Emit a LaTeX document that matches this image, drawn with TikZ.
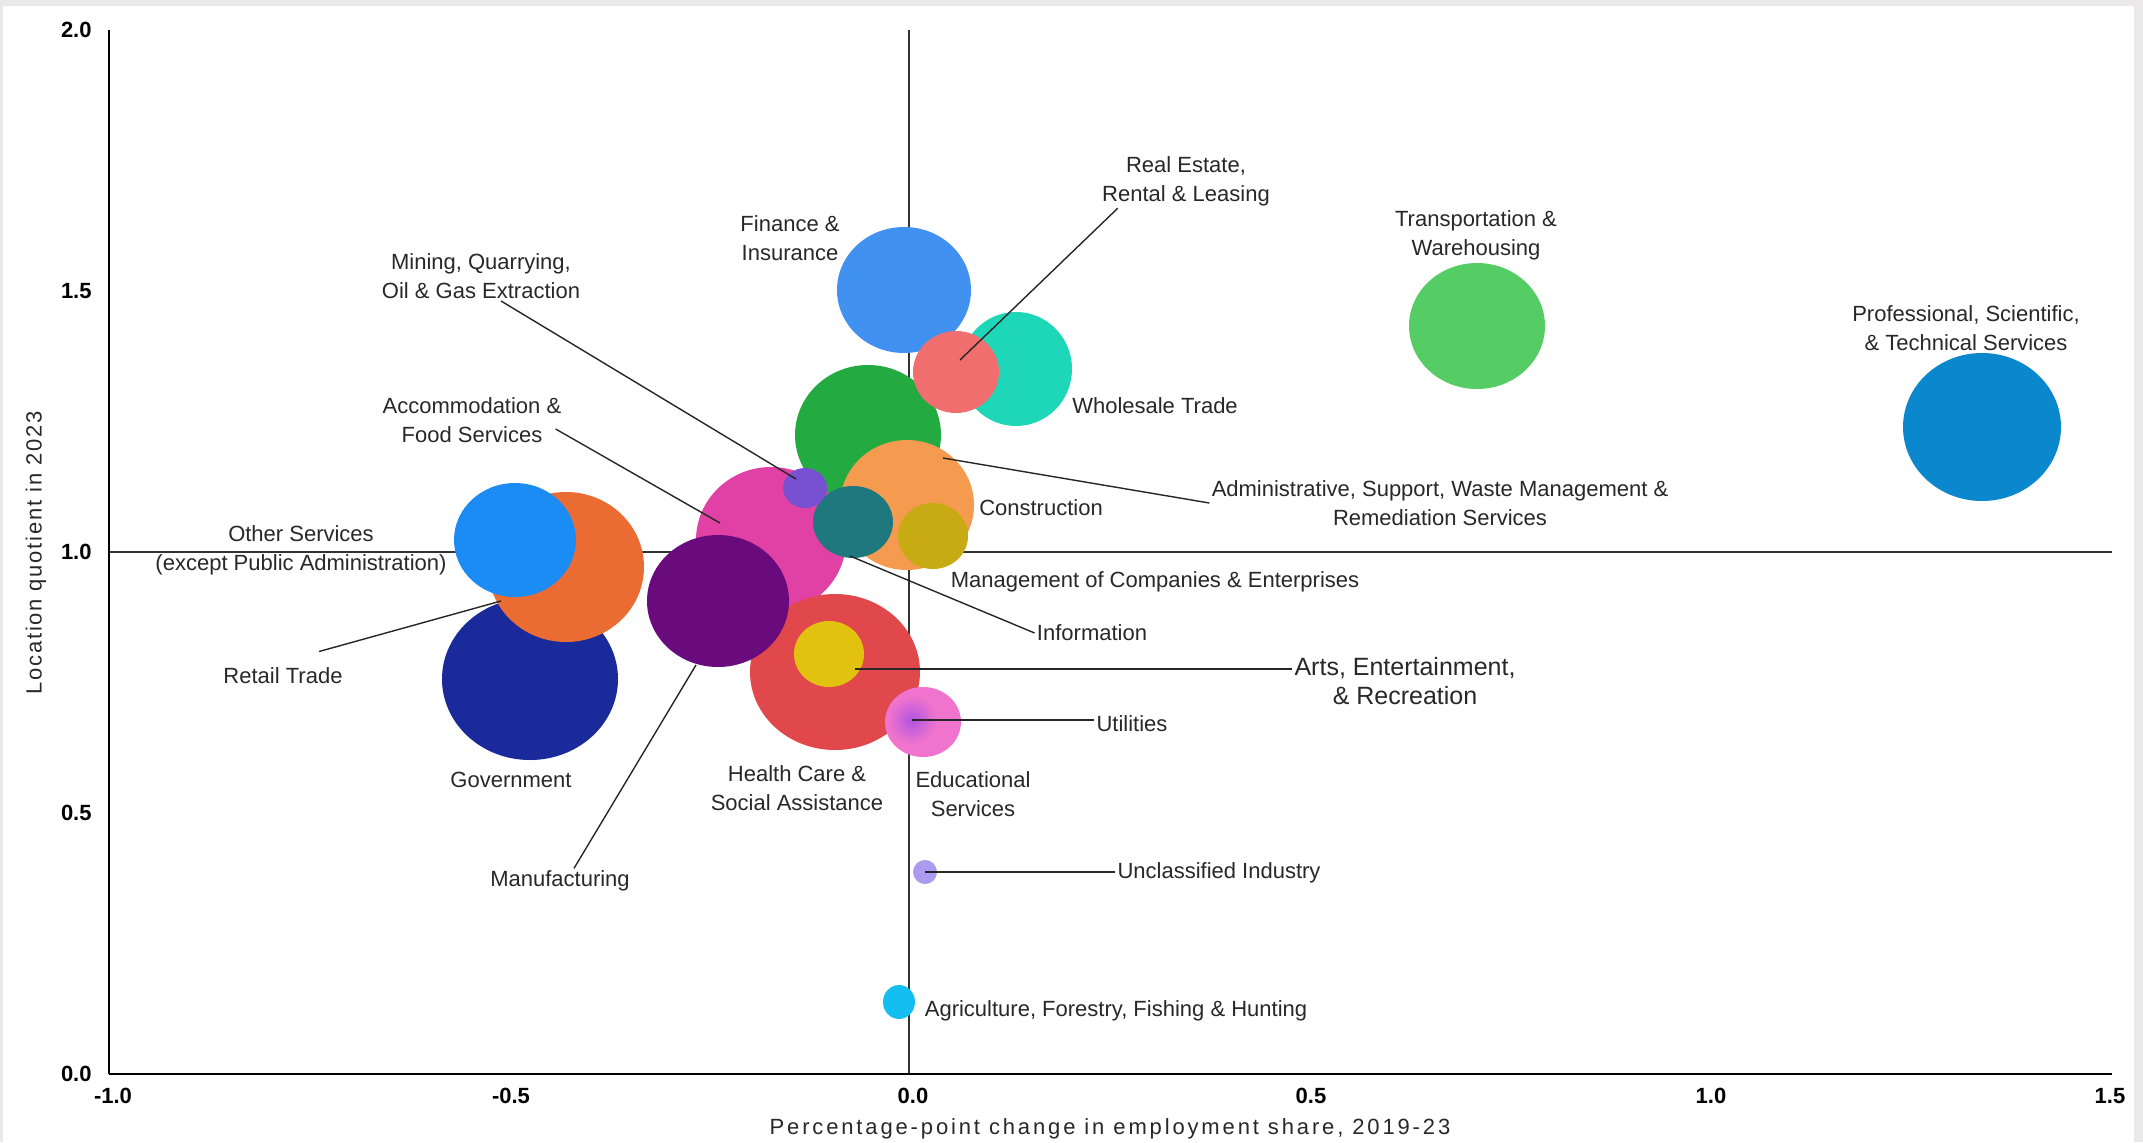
\documentclass[tikz,border=0pt]{standalone}
\usepackage{fontspec}
\setmainfont{Liberation Sans}
\newfontfamily\spacedfont[LetterSpace=13]{Liberation Sans}
\newfontfamily\yspacedfont[LetterSpace=8]{Liberation Sans}
\usetikzlibrary{shapes.geometric}

\definecolor{framegray}{RGB}{234,232,233}
\definecolor{labelgray}{RGB}{40,40,40}
\definecolor{govcol}{RGB}{27,42,155}
\definecolor{retcol}{RGB}{235,108,50}
\definecolor{othcol}{RGB}{28,140,245}
\definecolor{acccol}{RGB}{225,65,165}
\definecolor{heacol}{RGB}{225,72,75}
\definecolor{mancol}{RGB}{105,10,125}
\definecolor{artcol}{RGB}{225,195,15}
\definecolor{educol}{RGB}{240,115,205}
\definecolor{uticol}{RGB}{175,85,225}
\definecolor{concol}{RGB}{35,170,65}
\definecolor{admcol}{RGB}{245,155,80}
\definecolor{infcol}{RGB}{30,120,125}
\definecolor{mgtcol}{RGB}{200,170,20}
\definecolor{mincol}{RGB}{120,80,210}
\definecolor{fincol}{RGB}{65,145,240}
\definecolor{whocol}{RGB}{30,215,185}
\definecolor{reacol}{RGB}{240,110,110}
\definecolor{tracol}{RGB}{85,205,100}
\definecolor{procol}{RGB}{10,135,205}
\definecolor{unccol}{RGB}{170,155,240}
\definecolor{agrcol}{RGB}{20,190,240}

\begin{document}
\begin{tikzpicture}[x=0.5pt,y=-0.5pt,
  bubble/.style={ellipse,inner sep=0pt,draw=none},
  lbl/.style={align=center,inner sep=1pt,text=labelgray,font=\fontsize{11}{14.5}\selectfont},
  ticklbl/.style={inner sep=1pt,font=\bfseries\fontsize{11}{13}\selectfont},
  axistitle/.style={inner sep=1pt,text=labelgray,font=\spacedfont\fontsize{11}{13}\selectfont},
  leader/.style={line width=0.7pt,black!85},
  quadline/.style={line width=0.6pt,black!80}]
  \useasboundingbox (0,0) rectangle (2143,1142);
  \fill[framegray] (0,0) rectangle (2143,1142);
  \fill[white] (3,6) rectangle (2134,1142);

  % axes and quadrant lines
  \coordinate (o) at (109,1074);
  \coordinate (ytop) at (109,30);
  \coordinate (xend) at (2112,1074);
  \coordinate (vtop) at (909,30);
  \coordinate (vbot) at (909,1074);
  \coordinate (hleft) at (109,552);
  \coordinate (hright) at (2112,552);
  \draw[quadline] (vtop) -- (vbot);
  \draw[quadline] (hleft) -- (hright);
  \draw[line width=0.8pt] (ytop) -- (o);
  \draw[line width=1pt] (o) -- (xend);

  % tick labels
  \node[ticklbl,anchor=east] (y20) at (94,30) {2.0};
  \node[ticklbl,anchor=east] (y15) at (94,291) {1.5};
  \node[ticklbl,anchor=east] (y10) at (94,552) {1.0};
  \node[ticklbl,anchor=east] (y05) at (94,813) {0.5};
  \node[ticklbl,anchor=east] (y00) at (94,1074) {0.0};
  \node[ticklbl] (xm10) at (113,1096) {-1.0};
  \node[ticklbl] (xm05) at (511,1096) {-0.5};
  \node[ticklbl] (x00) at (913,1096) {0.0};
  \node[ticklbl] (x05) at (1311,1096) {0.5};
  \node[ticklbl] (x10) at (1711,1096) {1.0};
  \node[ticklbl] (x15) at (2110,1096) {1.5};
  \node[axistitle] (xtitle) at (1110,1129) {Percentage-point change in employment share, 2019-23};
  \node[axistitle,font=\yspacedfont\fontsize{11}{13}\selectfont,rotate=90] (ytitle) at (36,553) {Location quotient in 2023};

  % bubbles
  \node[bubble,fill=govcol,minimum width=88pt,minimum height=81pt] (gov) at (530,679) {};
  \node[bubble,fill=retcol,minimum width=78pt,minimum height=75pt] (ret) at (566,567) {};
  \node[bubble,fill=othcol,minimum width=61pt,minimum height=57pt] (oth) at (515,540) {};
  \node[bubble,fill=concol,minimum width=73pt,minimum height=70pt] (con) at (868,435) {};
  \node[bubble,fill=acccol,minimum width=75pt,minimum height=73pt] (acc) at (771,540) {};
  \node[bubble,fill=heacol,minimum width=85pt,minimum height=78pt] (hea) at (835,672) {};
  \node[bubble,fill=mancol,minimum width=71pt,minimum height=66pt] (man) at (718,601) {};
  \node[bubble,fill=artcol,minimum width=35pt,minimum height=33pt] (art) at (829,654) {};
  \node[bubble,fill=educol,minimum width=38pt,minimum height=35pt] (edu) at (923,722) {};
  \shade[inner color=uticol,outer color=educol] (912,720) circle (24);
  \node[bubble,minimum width=10pt,minimum height=10pt] (uti) at (912,720) {};
  \node[bubble,fill=admcol,minimum width=67pt,minimum height=65pt] (adm) at (907,505) {};
  \node[bubble,fill=infcol,minimum width=40pt,minimum height=36pt] (inf) at (853,522) {};
  \node[bubble,fill=mgtcol,minimum width=35pt,minimum height=33pt] (mgt) at (933,536) {};
  \node[bubble,fill=mincol,minimum width=22pt,minimum height=20pt] (min) at (805,488) {};
  \node[bubble,fill=fincol,minimum width=67pt,minimum height=63pt] (fin) at (904,290) {};
  \node[bubble,fill=whocol,minimum width=56pt,minimum height=57pt] (who) at (1016,369) {};
  \node[bubble,fill=reacol,minimum width=43pt,minimum height=41pt] (rea) at (956,372) {};
  \node[bubble,fill=tracol,minimum width=68pt,minimum height=63pt] (tra) at (1477,326) {};
  \node[bubble,fill=procol,minimum width=79pt,minimum height=74pt] (pro) at (1982,427) {};
  \node[bubble,fill=unccol,minimum width=12pt,minimum height=12pt] (unc) at (925,872) {};
  \node[bubble,fill=agrcol,minimum width=16pt,minimum height=17pt] (agr) at (899,1002) {};

  % labels
  \node[lbl] (realab) at (1186,181) {Real Estate,\\Rental \& Leasing};
  \node[lbl] (finlab) at (790,238) {Finance \&\\Insurance};
  \node[lbl] (tralab) at (1476,235) {Transportation \&\\Warehousing};
  \node[lbl] (minlab) at (481,276) {Mining, Quarrying,\\Oil \& Gas Extraction};
  \node[lbl] (prolab) at (1966,328) {Professional, Scientific,\\\& Technical Services};
  \node[lbl] (wholab) at (1155,406) {Wholesale Trade};
  \node[lbl] (acclab) at (472,420) {Accommodation \&\\Food Services};
  \node[lbl] (conlab) at (1041,508) {Construction};
  \node[lbl] (admlab) at (1440,503) {Administrative, Support, Waste Management \&\\Remediation Services};
  \node[lbl] (othlab) at (301,550) {Other Services\\(except Public Administration)};
  \node[lbl] (mgtlab) at (1155,582) {Management of Companies \& Enterprises};
  \node[lbl] (inflab) at (1092,633) {Information};
  \node[lbl] (retlab) at (283,676) {Retail Trade};
  \node[lbl,font=\fontsize{12.5}{14.5}\selectfont] (artlab) at (1405,681) {Arts, Entertainment,\\\& Recreation};
  \node[lbl] (utilab) at (1132,724) {Utilities};
  \node[lbl] (govlab) at (511,780) {Government};
  \node[lbl] (healab) at (797,788) {Health Care \&\\Social Assistance};
  \node[lbl] (edulab) at (973,794) {Educational\\Services};
  \node[lbl] (manlab) at (560,881) {Manufacturing};
  \node[lbl] (unclab) at (1219,873) {Unclassified Industry};
  \node[lbl] (agrlab) at (1116,1011) {Agriculture, Forestry, Fishing \& Hunting};

  % leader lines
  \coordinate (reapt) at (960,360);
  \coordinate (minpt) at (796,479);
  \coordinate (accpt) at (720,523);
  \coordinate (admpt) at (943,458);
  \coordinate (infpt) at (850,556);
  \coordinate (artpt) at (855,669);
  \coordinate (retpt) at (501,601);
  \coordinate (manpt) at (696,665);
  \draw[leader] ([xshift=9pt]realab.south west) -- (reapt);
  \draw[leader] ([xshift=10pt]minlab.south) -- (minpt);
  \draw[leader] ([xshift=-4pt,yshift=-4.5pt]acclab.east) -- (accpt);
  \draw[leader] (admlab.west) -- (admpt);
  \draw[leader] (inflab.west) -- (infpt);
  \draw[leader] ([yshift=6pt]artlab.west) -- (artpt);
  \draw[leader] (uti.center -| utilab.west) -- (uti.center);
  \draw[leader] ([shift={(18pt,7pt)}]retlab.north) -- (retpt);
  \draw[leader] ([xshift=7pt]manlab.north) -- (manpt);
  \draw[leader] (unc.center -| unclab.west) -- (unc.center);
\end{tikzpicture}
\end{document}
